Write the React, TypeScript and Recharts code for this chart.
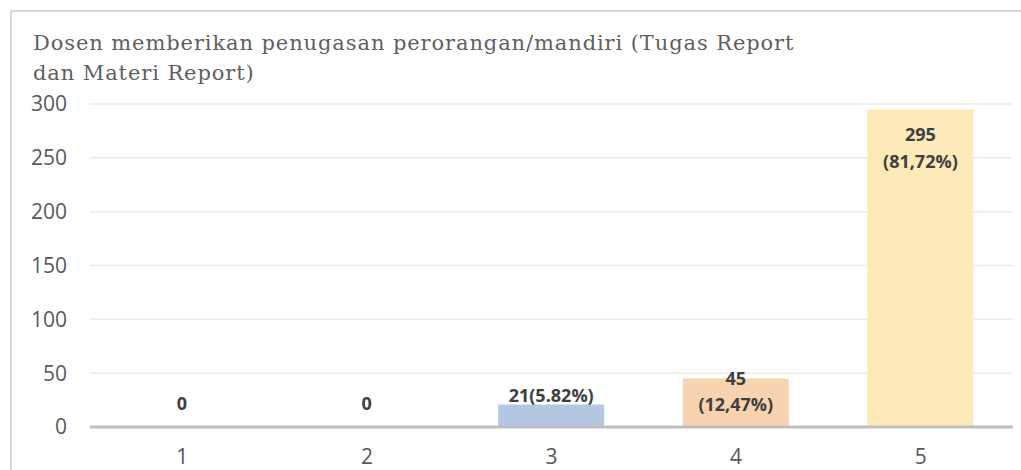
import React from "react";
import { BarChart, Bar, XAxis, YAxis, CartesianGrid, Cell, LabelList } from "recharts";

const categories = ["1", "2", "3", "4", "5"];
const counts = [0, 0, 21, 45, 295];
const labelLines: string[][] = [["0"], ["0"], ["21(5.82%)"], ["45", "(12,47%)"], ["295", "(81,72%)"]];
const barColors = ["transparent", "transparent", "#B4C7E3", "#F8D3B0", "#FEE9B8"];
const yTicks = [0, 50, 100, 150, 200, 250, 300];
const titleLines = ["Dosen memberikan penugasan perorangan/mandiri (Tugas Report", "dan Materi Report)"];

const data = categories.map((c, i) => ({ name: c, value: counts[i] }));

const tickFont = "'Open Sans', sans-serif";

function renderLabel(props: any) {
  const { x, y, width, value } = props;
  const index = categories.indexOf(String(value));
  if (index < 0) return null;
  const lines = labelLines[index];
  const cx = x + width / 2;
  const common = { fill: "#404040", fontSize: 18, fontWeight: 700, fontFamily: tickFont, textAnchor: "middle" as const };
  if (lines.length === 1) {
    const yy = counts[index] === 0 ? y - 17 : y - 2;
    return (
      <text x={cx} y={yy} {...common}>
        {lines[0]}
      </text>
    );
  }
  const big = counts[index] > 100;
  const o1 = big ? 32 : 6;
  const o2 = big ? 59 : 32;
  return (
    <g>
      <text x={cx} y={y + o1} {...common}>
        {lines[0]}
      </text>
      <text x={cx} y={y + o2} {...common}>
        {lines[1]}
      </text>
    </g>
  );
}

export default function App() {
  return (
    <div style={{ position: "absolute", left: 0, top: 0, width: 1021, height: 470, background: "#fff", overflow: "hidden" }}>
      <div
        style={{
          position: "absolute",
          left: 10,
          top: 10,
          width: 1100,
          height: 500,
          borderLeft: "2px solid #d9d9d9",
          borderTop: "2px solid #d9d9d9",
          boxSizing: "border-box",
        }}
      />
      <div
        style={{
          position: "absolute",
          left: 33,
          top: 28,
          fontFamily: "'DejaVu Serif', serif",
          fontSize: 21,
          letterSpacing: 0.9,
          lineHeight: "30px",
          color: "#5f5f5f",
          whiteSpace: "nowrap",
        }}
      >
        {titleLines.map((l, i) => (
          <div key={i}>{l}</div>
        ))}
      </div>
      <div style={{ position: "absolute", left: 0, top: 0 }}>
        <BarChart width={1021} height={470} data={data} margin={{ top: 104, right: 8, bottom: 13, left: 0 }}>
          <CartesianGrid vertical={false} stroke="#ebebeb" strokeWidth={1.5} />
          <XAxis
            dataKey="name"
            axisLine={{ stroke: "#bfbfbf", strokeWidth: 3 }}
            tickLine={false}
            tick={{ fill: "#595959", fontSize: 21, fontFamily: tickFont }}
            tickMargin={16}
          />
          <YAxis
            width={90}
            domain={[0, 300]}
            ticks={yTicks}
            axisLine={false}
            tickLine={false}
            tick={{ fill: "#595959", fontSize: 21, fontFamily: tickFont }}
            tickMargin={17}
          />
          <Bar dataKey="value" barSize={106} minPointSize={(v: number) => (v === 0 ? 0.5 : 0)} isAnimationActive={false}>
            {data.map((d, i) => (
              <Cell key={i} fill={barColors[i]} />
            ))}
            <LabelList dataKey="name" content={renderLabel} />
          </Bar>
        </BarChart>
      </div>
    </div>
  );
}
